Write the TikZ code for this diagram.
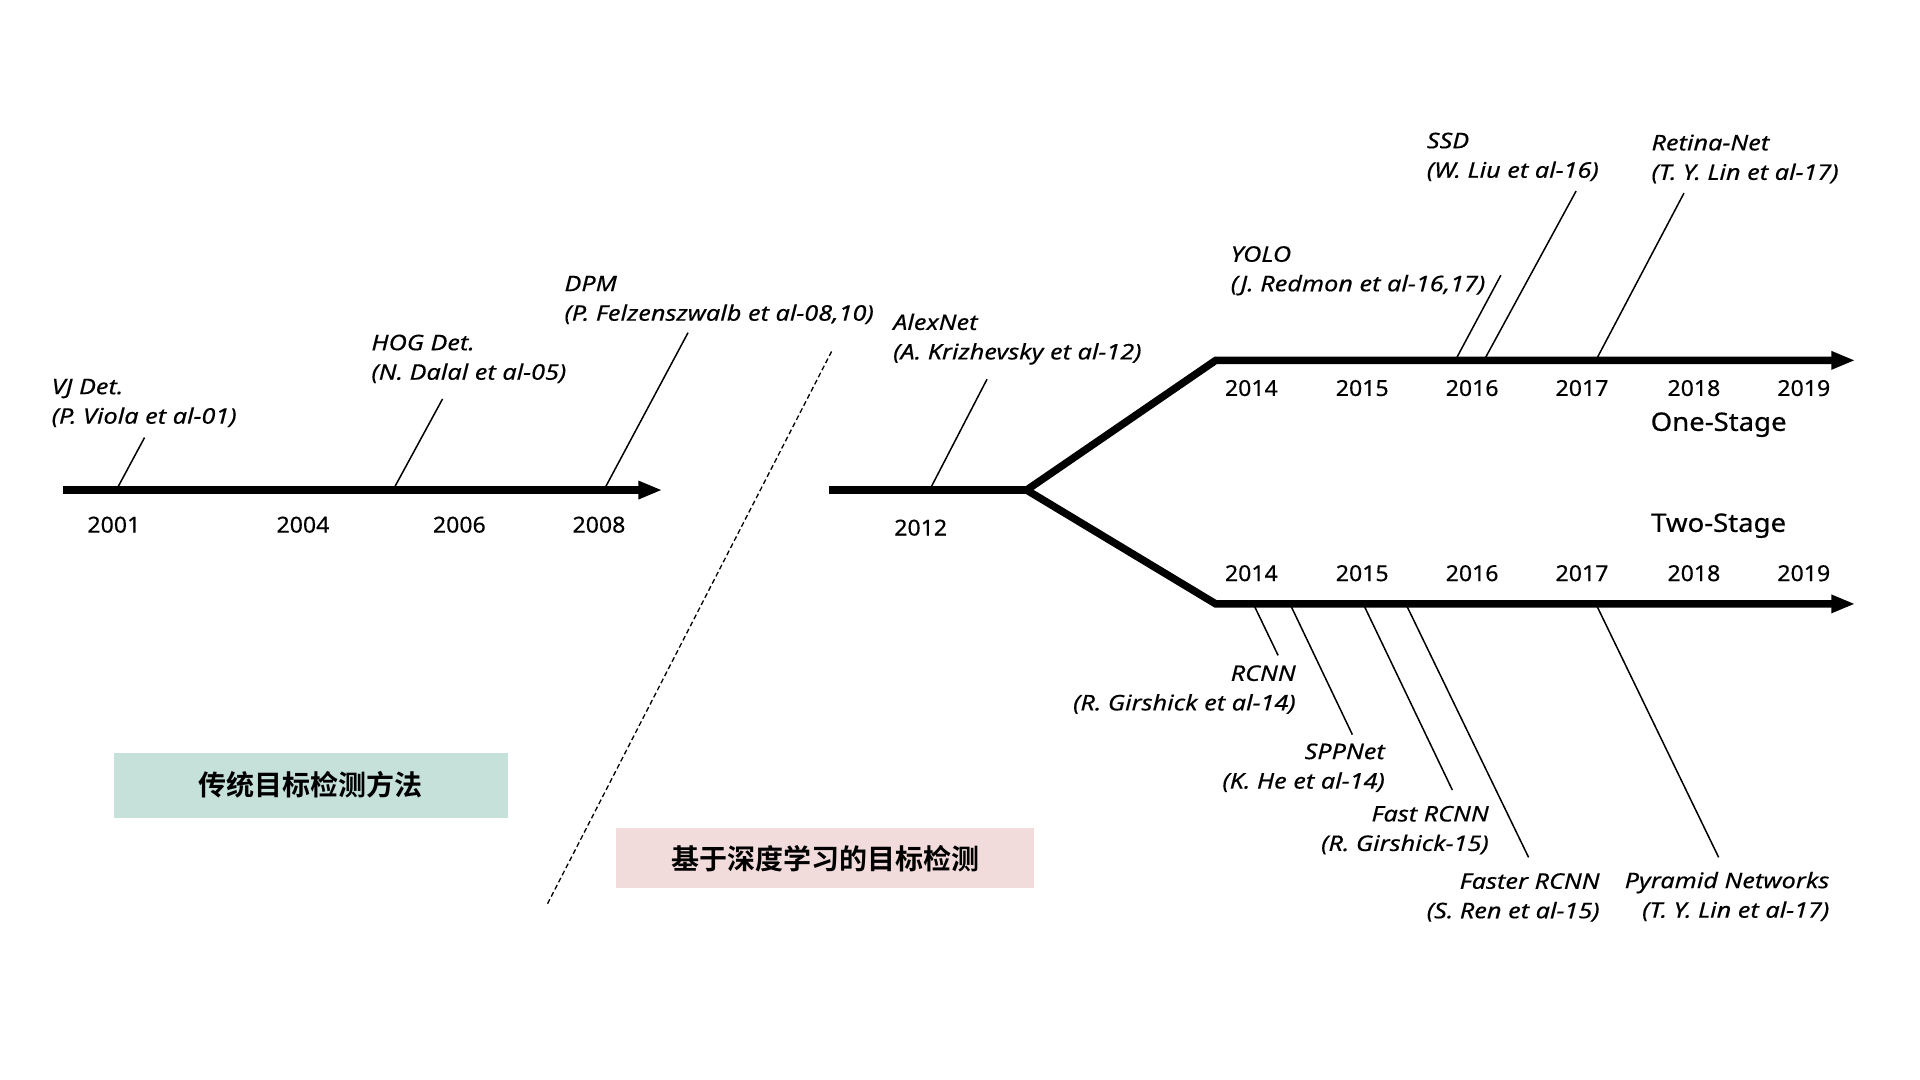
\documentclass[tikz,border=0pt]{standalone}
\usepackage{fontspec}
\setmainfont{Noto Sans}
\newfontfamily\lblfont{Noto Sans}[FakeStretch=1.175,FakeBold=0.35]
\newfontfamily\yrfont{Noto Sans}[FakeStretch=1.05,FakeBold=0.4]
\newfontfamily\stagefont{Noto Sans}[FakeStretch=1.08,FakeBold=0.6]
\newfontfamily\cjkbold{Noto Sans CJK SC Bold}
\usetikzlibrary{arrows.meta}
\definecolor{boxgreen}{RGB}{198,224,218}
\definecolor{boxpink}{RGB}{242,220,219}
\tikzset{
  axis/.style={line width=7.5pt,line join=miter,-{Triangle[length=24pt,width=17pt]}},
  trunk/.style={line width=7.5pt,line join=miter},
  leader/.style={line width=1.5pt},
  lbl/.style={font=\lblfont\fontsize{21.5}{29.5}\selectfont\itshape,inner sep=0pt},
  lblL/.style={lbl,align=left,anchor=west},
  lblR/.style={lbl,align=right,anchor=east},
  yr/.style={font=\yrfont\fontsize{22}{26}\selectfont,inner sep=0pt},
  stage/.style={font=\stagefont\fontsize{25.5}{30}\selectfont,inner sep=0pt},
  cat/.style={font=\cjkbold\fontsize{28}{32}\selectfont,inner sep=0pt},
}
\begin{document}
\begin{tikzpicture}[x=0.99pt,y=-0.99pt]
\useasboundingbox (0,0) rectangle (1939.4,1090.9);
% ---------- traditional timeline ----------
\coordinate (L0) at (64,495);
\coordinate (L1) at (669,495);
\draw[axis] (L0) -- (L1);
\node[yr] (y2001) at (115,530) {2001};
\node[yr] (y2004) at (306,530) {2004};
\node[yr] (y2006) at (464,530) {2006};
\node[yr] (y2008) at (605,530) {2008};

\node[lblL] (vj) at (52,407) {VJ Det.\\(P. Viola et al-01)};
\coordinate (vjA) at (117.5,495); \coordinate (vjB) at (146,442);
\draw[leader] (vjA) -- (vjB);

\node[lblL] (hog) at (375,362.5) {HOG Det.\\(N. Dalal et al-05)};
\coordinate (hogA) at (397,495); \coordinate (hogB) at (447,403);
\draw[leader] (hogA) -- (hogB);

\node[lblL] (dpm) at (570,303) {DPM\\(P. Felzenszwalb et al-08,10)};
\coordinate (dpmA) at (610,495); \coordinate (dpmB) at (695,336);
\draw[leader] (dpmA) -- (dpmB);

% ---------- separator ----------
\coordinate (sepA) at (840,355);
\coordinate (sepB) at (553,913);
\draw[line width=1.3pt,dash pattern=on 5pt off 3pt] (sepA) -- (sepB);

% ---------- category boxes ----------
\node[cat,fill=boxgreen,minimum width=394pt,minimum height=65pt] (trad) at (314,793) {传统目标检测方法};
\node[cat,fill=boxpink,minimum width=418pt,minimum height=60pt] (deep) at (833.5,867) {基于深度学习的目标检测};

% ---------- deep learning trunk ----------
\coordinate (D0) at (837,495);
\coordinate (Dj) at (1037,495);
\coordinate (U0) at (1228,364);
\coordinate (U1) at (1874,364);
\coordinate (W0) at (1228,610);
\coordinate (W1) at (1874,610);
\draw[trunk] (D0) -- (Dj);
\draw[axis] (Dj) -- (U0) -- (U1);
\draw[axis] (Dj) -- (W0) -- (W1);

\node[yr] (y2012) at (930,533) {2012};
\node[lblL] (alex) at (902,342.5) {AlexNet\\(A. Krizhevsky et al-12)};
\coordinate (alexA) at (939,495); \coordinate (alexB) at (997,383);
\draw[leader] (alexA) -- (alexB);

% upper years
\node[yr] (u14) at (1264,392) {2014};
\node[yr] (u15) at (1376,392) {2015};
\node[yr] (u16) at (1487,392) {2016};
\node[yr] (u17) at (1598,392) {2017};
\node[yr] (u18) at (1711,392) {2018};
\node[yr] (u19) at (1822,392) {2019};
\node[stage] (one) at (1736,429) {One-Stage};
\node[stage] (two) at (1736,531) {Two-Stage};
% lower years
\node[yr] (w14) at (1264,579) {2014};
\node[yr] (w15) at (1376,579) {2015};
\node[yr] (w16) at (1487,579) {2016};
\node[yr] (w17) at (1598,579) {2017};
\node[yr] (w18) at (1711,579) {2018};
\node[yr] (w19) at (1822,579) {2019};

% one-stage detectors
\node[lblL] (yolo) at (1243,273.5) {YOLO\\(J. Redmon et al-16,17)};
\coordinate (yoloA) at (1470,364); \coordinate (yoloB) at (1516,278);
\draw[leader] (yoloA) -- (yoloB);

\node[lblL] (ssd) at (1441,158.5) {SSD\\(W. Liu et al-16)};
\coordinate (ssdA) at (1499,364); \coordinate (ssdB) at (1592,193);
\draw[leader] (ssdA) -- (ssdB);

\node[lblL] (retina) at (1668,160.5) {Retina-Net\\(T. Y. Lin et al-17)};
\coordinate (retA) at (1612,364); \coordinate (retB) at (1701,195);
\draw[leader] (retA) -- (retB);

% two-stage detectors
\node[lblR] (rcnn) at (1309,696.5) {RCNN\\(R. Girshick et al-14)};
\coordinate (rcnnA) at (1266,610); \coordinate (rcnnB) at (1291,662);
\draw[leader] (rcnnA) -- (rcnnB);

\node[lblR] (spp) at (1399,775.5) {SPPNet\\(K. He et al-14)};
\coordinate (sppA) at (1303,610); \coordinate (sppB) at (1366,742);
\draw[leader] (sppA) -- (sppB);

\node[lblR] (fast) at (1504,838.5) {Fast RCNN\\(R. Girshick-15)};
\coordinate (fastA) at (1377,610); \coordinate (fastB) at (1467,798);
\draw[leader] (fastA) -- (fastB);

\node[lblR] (faster) at (1616,906.5) {Faster RCNN\\(S. Ren et al-15)};
\coordinate (fasterA) at (1420,610); \coordinate (fasterB) at (1544,866);
\draw[leader] (fasterA) -- (fasterB);

\node[lblR] (fpn) at (1848,905.5) {Pyramid Networks\\(T. Y. Lin et al-17)};
\coordinate (fpnA) at (1612,610); \coordinate (fpnB) at (1736,866);
\draw[leader] (fpnA) -- (fpnB);
\end{tikzpicture}
\end{document}
